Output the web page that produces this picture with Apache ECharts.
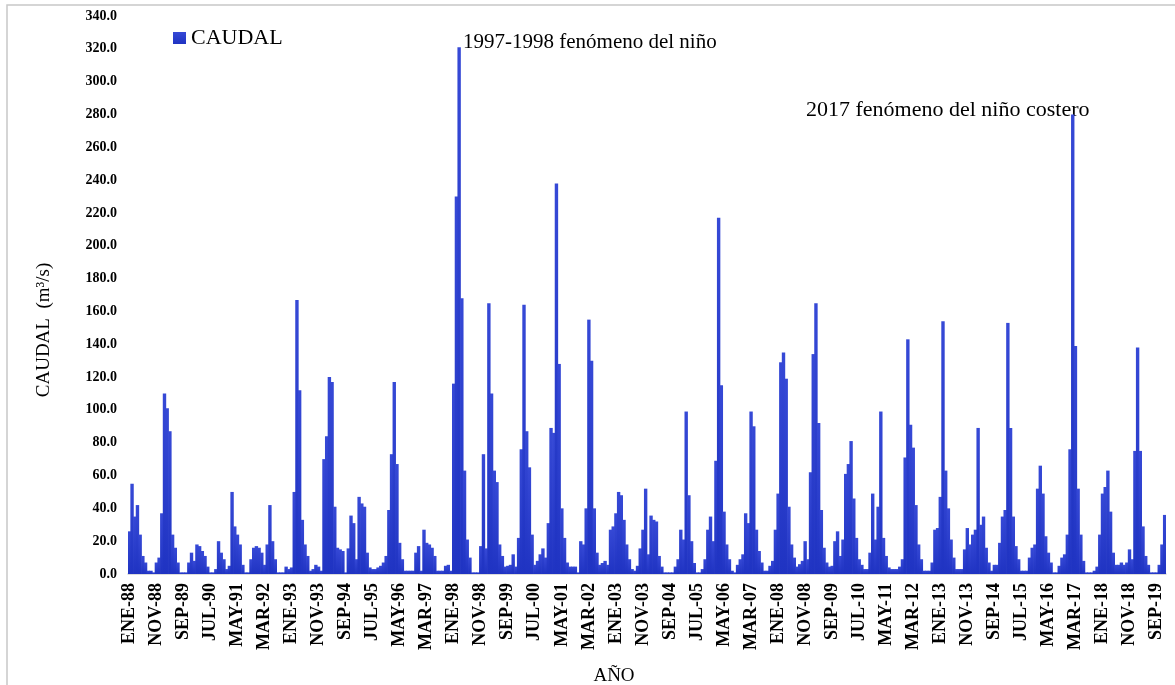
<!DOCTYPE html>
<html>
<head>
<meta charset="utf-8">
<script src="https://cdn.jsdelivr.net/npm/echarts@6/dist/echarts.min.js"></script>
<style>
html,body{margin:0;padding:0;background:#fff;}
#chart{width:1175px;height:685px;}
</style>
</head>
<body>
<div id="chart"></div>
<script>
// Monthly discharge (m3/s), January 1988 - December 2019
const caudal1988_1995 = [
  26, 55, 35, 42, 24, 11, 7, 2, 2, 1, 7, 10,
  37, 110, 101, 87, 24, 16, 7, 1, 1, 1, 7, 13,
  8, 18, 17, 14, 11, 4.5, 1, 1, 3, 20, 13, 9,
  3, 5, 50, 29, 24, 18, 5.6, 1, 1, 9, 16, 17,
  16, 13, 5.6, 18, 42, 20, 9, 1, 1, 1, 4.5, 3,
  4, 50, 167, 112, 33, 18, 11, 2, 3, 5.6, 4.5, 2,
  70, 84, 120, 117, 41, 16, 15, 14, 1, 15.6, 35.6, 31,
  9, 47, 43, 41, 13, 4, 3, 3, 4, 5, 7, 11
];
const caudal1996_2003 = [
  39, 73, 117, 67, 19, 9, 2, 2, 2, 2, 13, 17,
  2, 27, 19, 18, 16, 11, 2, 2, 2, 5, 5.6, 2,
  116, 230, 321, 168, 63, 21, 10, 1, 1, 1, 17, 73,
  15.6, 165, 110, 63, 56, 18, 11, 4.5, 5, 5.6, 12, 4.5,
  22, 76, 164, 87, 65, 24, 5.6, 8, 12, 15.6, 10, 31,
  89, 86, 238, 128, 40, 22, 7, 4.5, 4.5, 4.5, 1, 20,
  18, 40, 155, 130, 40, 13, 5.6, 6.7, 8, 5.6, 27, 29,
  37, 50, 48, 33, 18, 9, 3, 2, 5, 15.6, 27, 52
];
const caudal2004_2011 = [
  12, 35.6, 33, 32, 11, 4.5, 1, 1, 1, 1, 4.5, 9,
  27, 21, 99, 48, 20, 6.7, 1, 1, 3, 9, 27, 35,
  20, 69, 217, 115, 38, 18, 9, 2, 1, 5.6, 9, 12,
  37, 31, 99, 90, 27, 14, 7, 2, 2, 5, 8, 27,
  49, 129, 135, 119, 41, 18, 10, 4.5, 6, 8, 20, 9,
  62, 134, 165, 92, 39, 16, 7, 4.5, 5, 20, 26, 11,
  21, 61, 67, 81, 46, 22, 9, 5.6, 3, 3, 13, 49,
  21, 41, 99, 22, 11, 4, 3, 3, 3, 4.5, 9, 71
];
const caudal2012_2019 = [
  143, 91, 77, 42, 18, 9, 2, 2, 2, 7, 27, 28,
  47, 154, 63, 40, 21, 10, 3, 3, 3, 15, 28, 18,
  24, 27, 89, 30, 35, 16, 7, 2, 5.6, 5.6, 19, 35,
  39, 153, 89, 35, 17, 9, 2, 2, 2, 10, 16, 18,
  52, 66, 49, 23, 13, 7, 1, 1, 5, 10, 12, 24,
  76, 280, 139, 52, 24, 8, 1, 1, 1, 2, 4.5, 24,
  49, 53, 63, 38, 13, 5.6, 5.6, 7, 5.6, 7, 15, 9,
  75, 138, 75, 29, 11, 5.6, 1, 1, 1, 5.6, 18, 36
];
const monthNames = ['ENE','FEB','MAR','ABR','MAY','JUN','JUL','AGO','SEP','OCT','NOV','DIC'];
const firstYear = 1988, lastYear = 2019;
const seriesName = 'CAUDAL';
const xTitle = 'AÑO';
const yTitle = 'CAUDAL  (m³/s)';
const annotation1 = '1997-1998 fenómeno del niño';
const annotation2 = '2017 fenómeno del niño costero';

const caudal = [].concat(caudal1988_1995, caudal1996_2003, caudal2004_2011, caudal2012_2019);
const categories = [];
for (let y = firstYear; y <= lastYear; y++) {
  for (let m = 0; m < 12; m++) {
    categories.push(monthNames[m] + '-' + String(y % 100).padStart(2, '0'));
  }
}

const serif = '"Liberation Serif", "Times New Roman", serif';
const chart = echarts.init(document.getElementById('chart'), null, {renderer: 'canvas'});
chart.setOption({
  animation: false,
  backgroundColor: '#ffffff',
  grid: {left: 128, right: 9, top: 16, bottom: 111, containLabel: false},
  legend: {
    show: true,
    left: 168, top: 22,
    icon: 'rect', itemWidth: 13, itemHeight: 12, itemGap: 4,
    textStyle: {fontFamily: serif, fontSize: 22, color: '#000'},
    data: [seriesName]
  },
  xAxis: {
    type: 'category',
    data: categories,
    boundaryGap: true,
    axisTick: {show: false},
    axisLine: {show: true, lineStyle: {color: '#cfcfcf', width: 1.5}},
    axisLabel: {interval: 9, rotate: 90, margin: 9, fontFamily: serif, fontWeight: 'bold', fontSize: 18, color: '#000'}
  },
  yAxis: {
    type: 'value', min: 0, max: 340, interval: 20,
    axisLine: {show: false}, axisTick: {show: false}, splitLine: {show: false},
    axisLabel: {formatter: v => v.toFixed(1), margin: 11, fontFamily: serif, fontWeight: 'bold', fontSize: 14, color: '#000'}
  },
  series: [{
    name: seriesName,
    type: 'bar',
    data: caudal,
    barWidth: 3.4,
    itemStyle: {
      color: new echarts.graphic.LinearGradient(0, 0, 0, 1, [
        {offset: 0, color: '#3649d6'},
        {offset: 1, color: '#1f33c2'}
      ])
    }
  }],
  graphic: [
    {type: 'polyline', shape: {points: [[7, 685], [7, 5], [1175, 5]]}, style: {stroke: '#c8c8c8', lineWidth: 1.5, fill: null}, silent: true},
    {type: 'text', left: 463, top: 32, style: {text: annotation1, font: '21px ' + serif, fill: '#000'}},
    {type: 'text', left: 806, top: 99, style: {text: annotation2, font: '22px ' + serif, fill: '#000'}},
    {type: 'text', x: 614, y: 676, style: {text: xTitle, font: '19px ' + serif, fill: '#000', textAlign: 'center', textVerticalAlign: 'middle'}},
    {type: 'text', x: 44, y: 330, rotation: Math.PI / 2, style: {text: yTitle, font: '19px ' + serif, fill: '#000', textAlign: 'center', textVerticalAlign: 'middle'}}
  ]
});
</script>
</body>
</html>
